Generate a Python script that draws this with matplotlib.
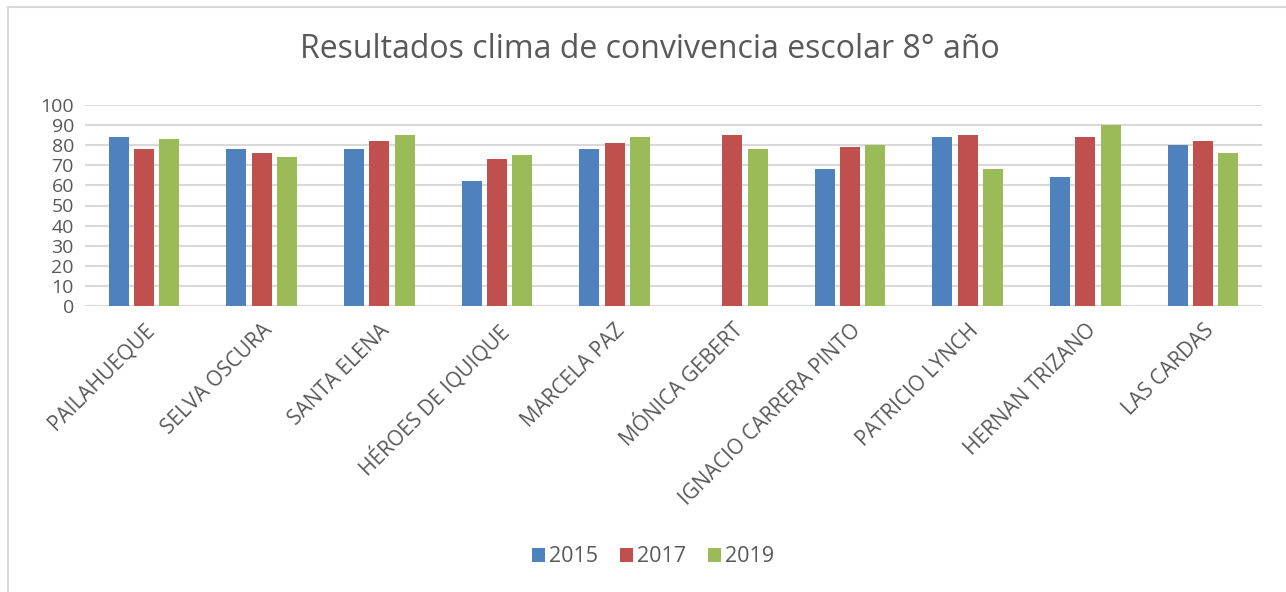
import numpy as np
import matplotlib.pyplot as plt
from matplotlib.lines import Line2D

schools = ["PAILAHUEQUE", "SELVA OSCURA", "SANTA ELENA", "HÉROES DE IQUIQUE",
           "MARCELA PAZ", "MÓNICA GEBERT", "IGNACIO CARRERA PINTO",
           "PATRICIO LYNCH", "HERNAN TRIZANO", "LAS CARDAS"]
years = ["2015", "2017", "2019"]
v2015 = [84, 78, 78, 62, 78, 0, 68, 84, 64, 80]
v2017 = [78, 76, 82, 73, 81, 85, 79, 85, 84, 82]
v2019 = [83, 74, 85, 75, 84, 78, 80, 68, 90, 76]
colors = ["#4f81bd", "#c0504d", "#9bbb59"]

plt.rcParams['font.family'] = ['Open Sans', 'DejaVu Sans']
txt = "#595959"

W, H = 1286, 592
fig = plt.figure(figsize=(W / 100, H / 100), dpi=100)

# chart border (left and top visible)
fig.add_artist(Line2D([7.5 / W, 7.5 / W], [0, 1 - 6.5 / H], transform=fig.transFigure,
                      color="#d9d9d9", lw=1.5))
fig.add_artist(Line2D([7.5 / W, 1], [1 - 6.5 / H, 1 - 6.5 / H], transform=fig.transFigure,
                      color="#d9d9d9", lw=1.5))

ax = fig.add_axes([85 / W, 1 - 306 / H, (1262 - 85) / W, (306 - 105) / H])

x = np.arange(len(schools))
bw = 0.17
step = 0.215
for i, (vals, c, y) in enumerate(zip([v2015, v2017, v2019], colors, years)):
    ax.bar(x + (i - 1) * step, vals, bw, color=c, label=y, zorder=3)

ax.set_xlim(-0.5, len(schools) - 0.5)
ax.set_ylim(0, 100)
ax.set_yticks(range(0, 101, 10))
ax.yaxis.grid(True, color="#d9d9d9", lw=1.5, zorder=0)
for s in ax.spines.values():
    s.set_visible(False)
ax.axhline(0, color="#d9d9d9", lw=1.5, zorder=2)
ax.tick_params(axis='both', length=0, labelcolor=txt)
ax.tick_params(axis='y', pad=8, labelsize=14)
ax.set_xticks(x)
ax.set_xticklabels(schools, rotation=45, ha='right', rotation_mode='anchor', fontsize=15)
ax.tick_params(axis='x', pad=10)

fig.text(650 / W, 1 - 50 / H, "Resultados clima de convivencia escolar 8° año",
         ha='center', va='center', fontsize=23, color=txt)

handles, labels = ax.get_legend_handles_labels()
fig.legend(handles, labels, loc='center', bbox_to_anchor=(653 / W, 1 - 557 / H), ncol=3,
           frameon=False, fontsize=15.5, labelcolor=txt, handlelength=0.6, handleheight=0.6,
           handletextpad=0.2, columnspacing=1.0)

fig.savefig("out.png", dpi=100, facecolor="white")
